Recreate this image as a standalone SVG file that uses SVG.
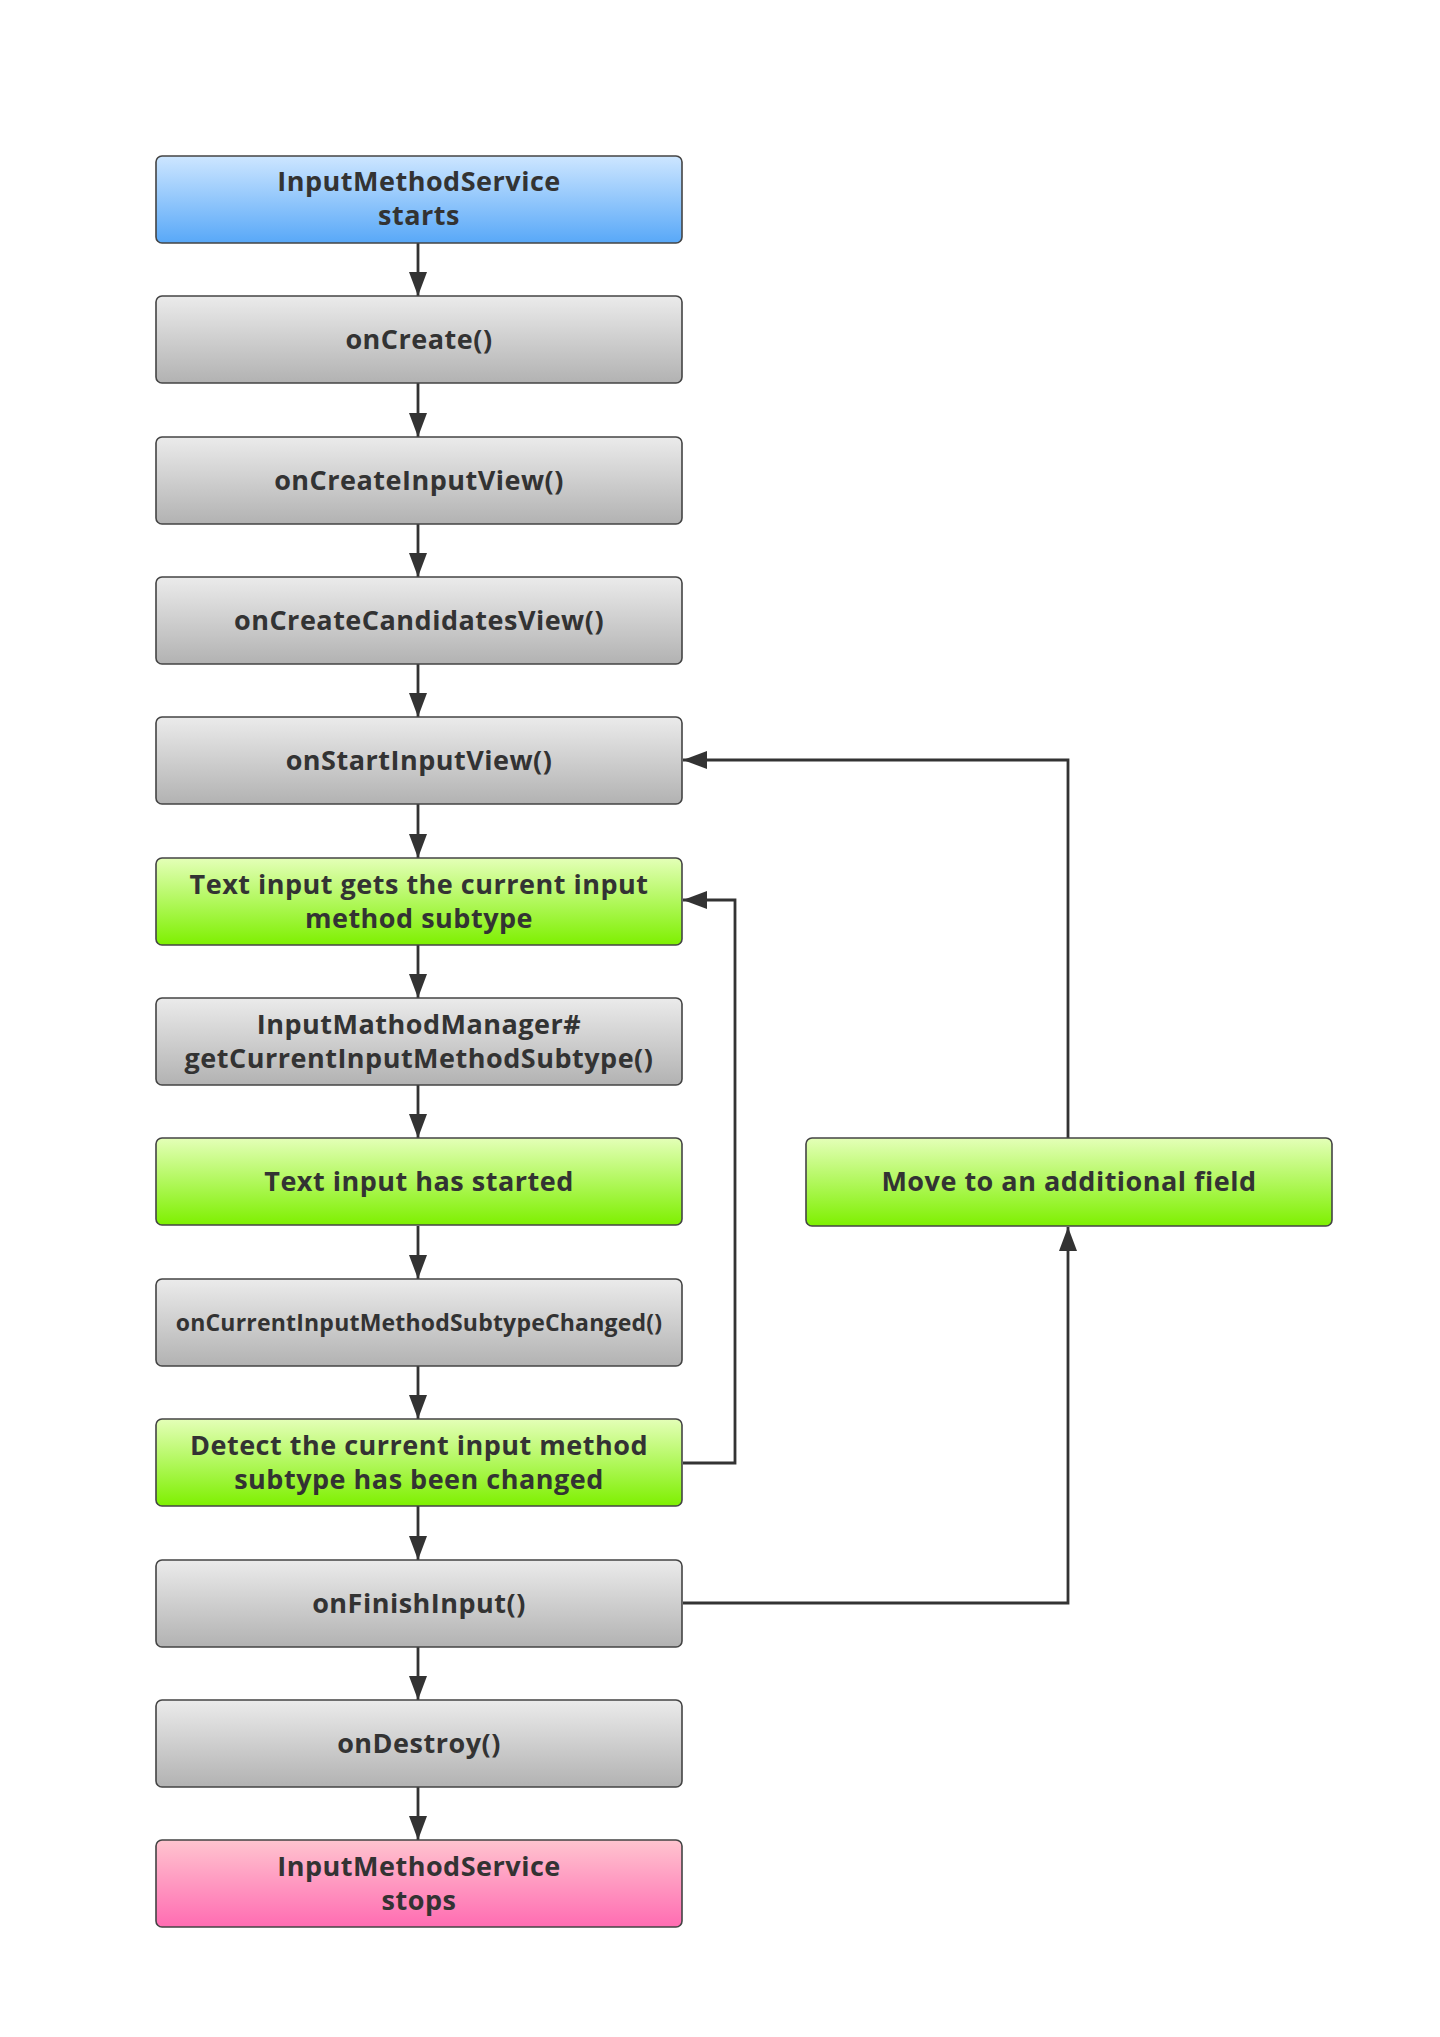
<svg xmlns="http://www.w3.org/2000/svg" width="1440" height="2037" viewBox="0 0 1440 2037">
<defs>
<linearGradient id="gBlue" x1="0" y1="0" x2="0" y2="1"><stop offset="0" stop-color="#cde6ff"/><stop offset="1" stop-color="#58a8f8"/></linearGradient>
<linearGradient id="gGray" x1="0" y1="0" x2="0" y2="1"><stop offset="0" stop-color="#ebebeb"/><stop offset="1" stop-color="#b2b2b2"/></linearGradient>
<linearGradient id="gGreen" x1="0" y1="0" x2="0" y2="1"><stop offset="0" stop-color="#e4ffb8"/><stop offset="1" stop-color="#7ef000"/></linearGradient>
<linearGradient id="gPink" x1="0" y1="0" x2="0" y2="1"><stop offset="0" stop-color="#ffc4cf"/><stop offset="1" stop-color="#ff6cb2"/></linearGradient>
<marker id="arr" markerUnits="userSpaceOnUse" markerWidth="26" markerHeight="22" refX="24" refY="11" orient="auto"><path d="M0,2 L24,11 L0,20 Z" fill="#333"/></marker>
<style>
.box{stroke:#444;stroke-width:1.6}
.t{font-family:"Open Sans","DejaVu Sans",sans-serif;font-weight:700;font-size:27px;letter-spacing:0.5px;fill:#333;text-anchor:middle}
.s{font-size:23px;letter-spacing:0.2px}
.c{fill:none;stroke:#333;stroke-width:2.8;marker-end:url(#arr)}
</style>
</defs>
<rect width="1440" height="2037" fill="#fff"/>
<g id="connectors">
<path class="c" d="M418,243 V296"/>
<path class="c" d="M418,383 V437"/>
<path class="c" d="M418,524 V577"/>
<path class="c" d="M418,664 V717"/>
<path class="c" d="M418,804 V858"/>
<path class="c" d="M418,945 V998"/>
<path class="c" d="M418,1085 V1138"/>
<path class="c" d="M418,1226 V1279"/>
<path class="c" d="M418,1366 V1419"/>
<path class="c" d="M418,1506 V1560"/>
<path class="c" d="M418,1647 V1700"/>
<path class="c" d="M418,1787 V1840"/>
<path class="c" d="M1068,1138 V760 H683"/>
<path class="c" d="M683,1463 H735 V900 H683"/>
<path class="c" d="M683,1603 H1068 V1227"/>
</g>
<g id="n1"><rect class="box" x="156" y="156" width="526" height="87" rx="6" fill="url(#gBlue)"/><text class="t" x="419" y="191">InputMethodService</text><text class="t" x="419" y="225">starts</text></g>
<g id="n2"><rect class="box" x="156" y="296" width="526" height="87" rx="6" fill="url(#gGray)"/><text class="t" x="419" y="349">onCreate()</text></g>
<g id="n3"><rect class="box" x="156" y="437" width="526" height="87" rx="6" fill="url(#gGray)"/><text class="t" x="419" y="490">onCreateInputView()</text></g>
<g id="n4"><rect class="box" x="156" y="577" width="526" height="87" rx="6" fill="url(#gGray)"/><text class="t" x="419" y="630">onCreateCandidatesView()</text></g>
<g id="n5"><rect class="box" x="156" y="717" width="526" height="87" rx="6" fill="url(#gGray)"/><text class="t" x="419" y="770">onStartInputView()</text></g>
<g id="n6"><rect class="box" x="156" y="858" width="526" height="87" rx="6" fill="url(#gGreen)"/><text class="t" x="419" y="894">Text input gets the current input</text><text class="t" x="419" y="928">method subtype</text></g>
<g id="n7"><rect class="box" x="156" y="998" width="526" height="87" rx="6" fill="url(#gGray)"/><text class="t" x="419" y="1034">InputMathodManager#</text><text class="t" x="419" y="1068">getCurrentInputMethodSubtype()</text></g>
<g id="n8"><rect class="box" x="156" y="1138" width="526" height="87" rx="6" fill="url(#gGreen)"/><text class="t" x="419" y="1191">Text input has started</text></g>
<g id="n9"><rect class="box" x="156" y="1279" width="526" height="87" rx="6" fill="url(#gGray)"/><text class="t s" x="419" y="1331">onCurrentInputMethodSubtypeChanged()</text></g>
<g id="n10"><rect class="box" x="156" y="1419" width="526" height="87" rx="6" fill="url(#gGreen)"/><text class="t" x="419" y="1455">Detect the current input method</text><text class="t" x="419" y="1489">subtype has been changed</text></g>
<g id="n11"><rect class="box" x="156" y="1560" width="526" height="87" rx="6" fill="url(#gGray)"/><text class="t" x="419" y="1613">onFinishInput()</text></g>
<g id="n12"><rect class="box" x="156" y="1700" width="526" height="87" rx="6" fill="url(#gGray)"/><text class="t" x="419" y="1753">onDestroy()</text></g>
<g id="n13"><rect class="box" x="156" y="1840" width="526" height="87" rx="6" fill="url(#gPink)"/><text class="t" x="419" y="1876">InputMethodService</text><text class="t" x="419" y="1910">stops</text></g>
<g id="n14"><rect class="box" x="806" y="1138" width="526" height="88" rx="6" fill="url(#gGreen)"/><text class="t" x="1069" y="1191">Move to an additional field</text></g>
</svg>
